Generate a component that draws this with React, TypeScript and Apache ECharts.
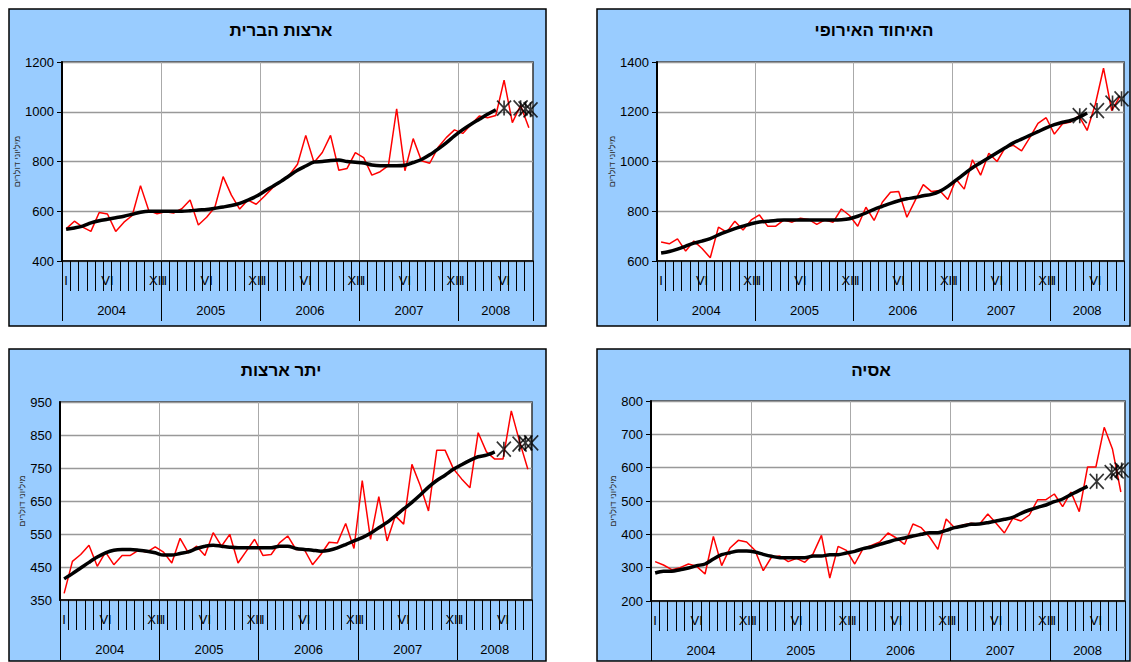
import React, { useEffect, useRef } from 'react';
import * as echarts from 'echarts';

// ---------- data ----------
const years = ['2004', '2005', '2006', '2007', '2008'];
const monthsPerYear = [12, 12, 12, 12, 9];
const roman = ['I', 'II', 'III', 'IV', 'V', 'VI', 'VII', 'VIII', 'IX', 'X', 'XI', 'XII'];
const shownRoman = ['I', 'VI', 'XII'];

const usActual = [529, 560, 536, 519, 595, 589, 519, 556, 583, 703, 603, 590, 598, 593, 610, 645, 545, 576, 616, 739, 665, 609, 645, 628, 660, 695, 720, 745, 789, 905, 796, 836, 905, 765, 772, 836, 816, 745, 759, 783, 1012, 763, 892, 803, 793, 856, 896, 927, 913, 949, 983, 976, 985, 1127, 956, 1025, 936];
const usTrend = [528, 533, 540, 553, 562, 568, 574, 580, 588, 596, 600, 600, 600, 600, 600, 602, 605, 607, 612, 617, 623, 632, 645, 660, 680, 700, 720, 743, 765, 782, 798, 800, 804, 806, 800, 797, 794, 786, 783, 783, 783, 785, 796, 808, 827, 850, 875, 903, 928, 950, 970, 990, 1008];
const usMarkX = [53.5, 55.5, 56.1, 56.7];
const usMarkY = [1015, 1016, 1012, 1008];

const euActual = [676, 669, 689, 640, 680, 650, 613, 736, 716, 760, 725, 765, 785, 740, 740, 765, 756, 772, 767, 747, 765, 756, 809, 783, 740, 816, 763, 836, 876, 879, 776, 843, 907, 879, 883, 847, 929, 889, 1007, 945, 1033, 1000, 1056, 1065, 1043, 1096, 1153, 1176, 1110, 1152, 1159, 1183, 1125, 1230, 1375, 1205, 1262];
const euTrend = [632, 638, 648, 660, 672, 680, 690, 705, 718, 730, 740, 750, 757, 760, 763, 765, 765, 765, 765, 765, 765, 765, 766, 770, 780, 793, 808, 820, 832, 842, 850, 855, 862, 868, 880, 900, 925, 950, 975, 995, 1015, 1035, 1055, 1075, 1090, 1105, 1120, 1135, 1148, 1158, 1165, 1178, 1195];
const euMarkX = [51.6, 53.7, 55.6, 56.7];
const euMarkY = [1184, 1205, 1235, 1252];

const otherActual = [370, 467, 488, 516, 452, 495, 457, 485, 485, 501, 495, 511, 495, 462, 537, 493, 513, 485, 554, 513, 549, 462, 498, 534, 485, 488, 523, 544, 503, 503, 457, 488, 525, 523, 582, 506, 712, 534, 663, 529, 605, 580, 761, 697, 620, 804, 804, 748, 717, 690, 857, 799, 777, 777, 923, 830, 746];
const otherTrend = [414, 430, 447, 464, 480, 493, 501, 503, 503, 501, 498, 493, 486, 486, 491, 496, 506, 513, 516, 513, 510, 508, 508, 508, 508, 508, 513, 513, 506, 503, 501, 498, 501, 508, 518, 529, 539, 552, 569, 585, 605, 626, 646, 668, 692, 712, 728, 746, 760, 773, 784, 789, 799];
const otherMarkX = [53.6, 55.5, 56.2, 56.9];
const otherMarkY = [807, 822, 826, 826];

const asiaActual = [318, 308, 294, 300, 311, 304, 281, 394, 306, 359, 382, 377, 352, 291, 332, 335, 318, 328, 316, 342, 397, 269, 364, 352, 311, 357, 367, 377, 404, 389, 370, 431, 420, 392, 355, 446, 420, 428, 433, 430, 461, 433, 404, 448, 440, 458, 504, 504, 521, 483, 527, 468, 602, 602, 721, 655, 527];
const asiaTrend = [284, 289, 289, 294, 299, 306, 311, 326, 339, 345, 350, 350, 347, 340, 334, 330, 330, 330, 330, 335, 335, 339, 339, 344, 349, 357, 362, 370, 377, 384, 389, 395, 400, 405, 405, 412, 420, 425, 430, 431, 435, 440, 445, 451, 463, 473, 481, 488, 498, 506, 519, 532, 544];
const asiaMarkX = [53.6, 55.4, 56.0, 56.6];
const asiaMarkY = [559, 585, 590, 593];

const yAxisName = 'מיליוני דולרים';

const panels = [
  { title: 'ארצות הברית', actual: usActual, trend: usTrend, markX: usMarkX, markY: usMarkY, yMin: 400, yMax: 1200, yStep: 200, yLabelStep: 200 },
  { title: 'האיחוד האירופי', actual: euActual, trend: euTrend, markX: euMarkX, markY: euMarkY, yMin: 600, yMax: 1400, yStep: 200, yLabelStep: 200 },
  { title: 'יתר ארצות', actual: otherActual, trend: otherTrend, markX: otherMarkX, markY: otherMarkY, yMin: 350, yMax: 950, yStep: 50, yLabelStep: 100 },
  { title: 'אסיה', actual: asiaActual, trend: asiaTrend, markX: asiaMarkX, markY: asiaMarkY, yMin: 200, yMax: 800, yStep: 100, yLabelStep: 100 },
];

// ---------- layout (positions / sizes only) ----------
const layout = [
  { box: [9, 9, 537, 317], grid: { left: 62, top: 62, width: 471, height: 199 }, titleX: 281, titleY: 30 },
  { box: [597, 9, 533, 317], grid: { left: 657, top: 62, width: 467, height: 199 }, titleX: 874, titleY: 30 },
  { box: [9, 349, 537, 312], grid: { left: 60, top: 402, width: 472, height: 198 }, titleX: 281, titleY: 370 },
  { box: [597, 349, 533, 312], grid: { left: 651, top: 401, width: 474, height: 200 }, titleX: 871, titleY: 370 },
];

const FONT = '"Liberation Sans", Arial, sans-serif';

// month categories
const monthIds: string[] = [];
const monthText: string[] = [];
years.forEach((y, yi) => {
  for (let m = 0; m < monthsPerYear[yi]; m++) {
    monthIds.push(y + '-' + m);
    monthText.push(shownRoman.includes(roman[m]) ? roman[m] : '');
  }
});
const totalMonths = monthIds.length;

// half-month grid for year labels and separators
const halfIds: string[] = [];
for (let i = 0; i <= totalMonths * 2; i++) halfIds.push('h' + i);
const yearLabelAt: Record<number, string> = {};
const sepAt = new Set<number>();
{
  let start = 0;
  years.forEach((y, yi) => {
    sepAt.add(start * 2);
    yearLabelAt[start * 2 + monthsPerYear[yi]] = y;
    start += monthsPerYear[yi];
  });
  sepAt.add(start * 2);
}

function buildOption() {
  const grid: any[] = [];
  const xAxis: any[] = [];
  const yAxis: any[] = [];
  const series: any[] = [];
  const graphic: any[] = [];

  panels.forEach((p, g) => {
    const L = layout[g];
    graphic.push({
      type: 'rect', z: -10, silent: true,
      shape: { x: L.box[0], y: L.box[1], width: L.box[2], height: L.box[3] },
      style: { fill: '#99CCFF', stroke: '#000', lineWidth: 1.5 },
    });
    graphic.push({
      type: 'text', z: 10, x: L.titleX, y: L.titleY,
      style: { text: p.title, align: 'center', verticalAlign: 'middle', fontSize: 17, fontWeight: 'bold', fontFamily: FONT, fill: '#000' },
    });

    grid.push({ ...L.grid, show: true, backgroundColor: '#fff', borderColor: '#333', borderWidth: 1.5, containLabel: false });

    // month axis
    xAxis.push({
      type: 'category', gridIndex: g, data: monthIds, boundaryGap: true, position: 'bottom',
      axisLine: { show: true, lineStyle: { color: '#000', width: 1.5 } },
      axisTick: { show: true, interval: 0, length: 30, lineStyle: { color: '#000', width: 1 } },
      axisLabel: {
        interval: 0, margin: 13, fontSize: 13, color: '#000', fontFamily: FONT,
        formatter: (_v: string, i: number) => monthText[i],
      },
      splitLine: { show: false },
    });
    // year axis
    xAxis.push({
      type: 'category', gridIndex: g, data: halfIds, boundaryGap: false, position: 'bottom',
      axisLine: { show: false },
      axisTick: { show: true, interval: (i: number) => sepAt.has(i), length: 60, lineStyle: { color: '#000', width: 1 } },
      axisLabel: {
        interval: (i: number) => yearLabelAt[i] !== undefined, margin: 43, fontSize: 13, color: '#000', fontFamily: FONT,
        formatter: (_v: string, i: number) => yearLabelAt[i] || '',
      },
      splitLine: { show: true, interval: (i: number) => sepAt.has(i) && i !== 0 && i !== totalMonths * 2, lineStyle: { color: '#aaa', width: 1 } },
    });
    // data axis
    xAxis.push({ type: 'value', gridIndex: g, min: 0, max: totalMonths, show: false });

    const alt = p.yStep !== p.yLabelStep;
    yAxis.push({
      type: 'value', gridIndex: g, min: p.yMin, max: p.yMax, interval: p.yStep,
      axisLine: { show: true, lineStyle: { color: '#000', width: 2 } },
      axisTick: { show: !alt, length: 5, lineStyle: { color: '#000' } },
      axisLabel: {
        margin: 8, fontSize: 13, color: '#000', fontFamily: FONT,
        formatter: (v: number) => ((v - p.yMin) % p.yLabelStep === 0 ? String(v) : ''),
      },
      splitLine: { show: true, lineStyle: { color: alt ? ['#999', 'rgba(0,0,0,0)'] : ['#999'], width: 1.3 } },
      name: yAxisName, nameLocation: 'middle', nameGap: 31, nameRotate: 90,
      nameTextStyle: { fontSize: 9, color: '#333', fontFamily: FONT },
    });

    const xi = g * 3 + 2;
    series.push({
      type: 'line', xAxisIndex: xi, yAxisIndex: g, z: 2, showSymbol: false,
      data: p.actual.map((v, i) => [i + 0.5, v]),
      lineStyle: { color: '#ff0000', width: 1.5 },
    });
    series.push({
      type: 'line', xAxisIndex: xi, yAxisIndex: g, z: 3, showSymbol: false, smooth: 0.3,
      data: p.trend.map((v, i) => [i + 0.5, v]),
      lineStyle: { color: '#000', width: 3.5 },
    });
    series.push({
      type: 'scatter', xAxisIndex: xi, yAxisIndex: g, z: 4,
      data: p.markX.map((x, k) => [x, p.markY[k]]),
      symbol: 'path://M0,0L12,13M12,0L0,13M6,0L6,13', symbolSize: [14, 15],
      itemStyle: { color: 'rgba(0,0,0,0)', borderColor: '#000', borderWidth: 1.7 },
    });
  });

  return { animation: false, backgroundColor: '#fff', grid, xAxis, yAxis, series, graphic };
}

export default function App() {
  const ref = useRef<HTMLDivElement>(null);
  useEffect(() => {
    if (!ref.current) return;
    const chart = echarts.init(ref.current, undefined, { renderer: 'svg' });
    chart.setOption(buildOption() as any);
    return () => chart.dispose();
  }, []);
  return <div ref={ref} style={{ position: 'absolute', left: 0, top: 0, width: 1131, height: 662 }} />;
}
